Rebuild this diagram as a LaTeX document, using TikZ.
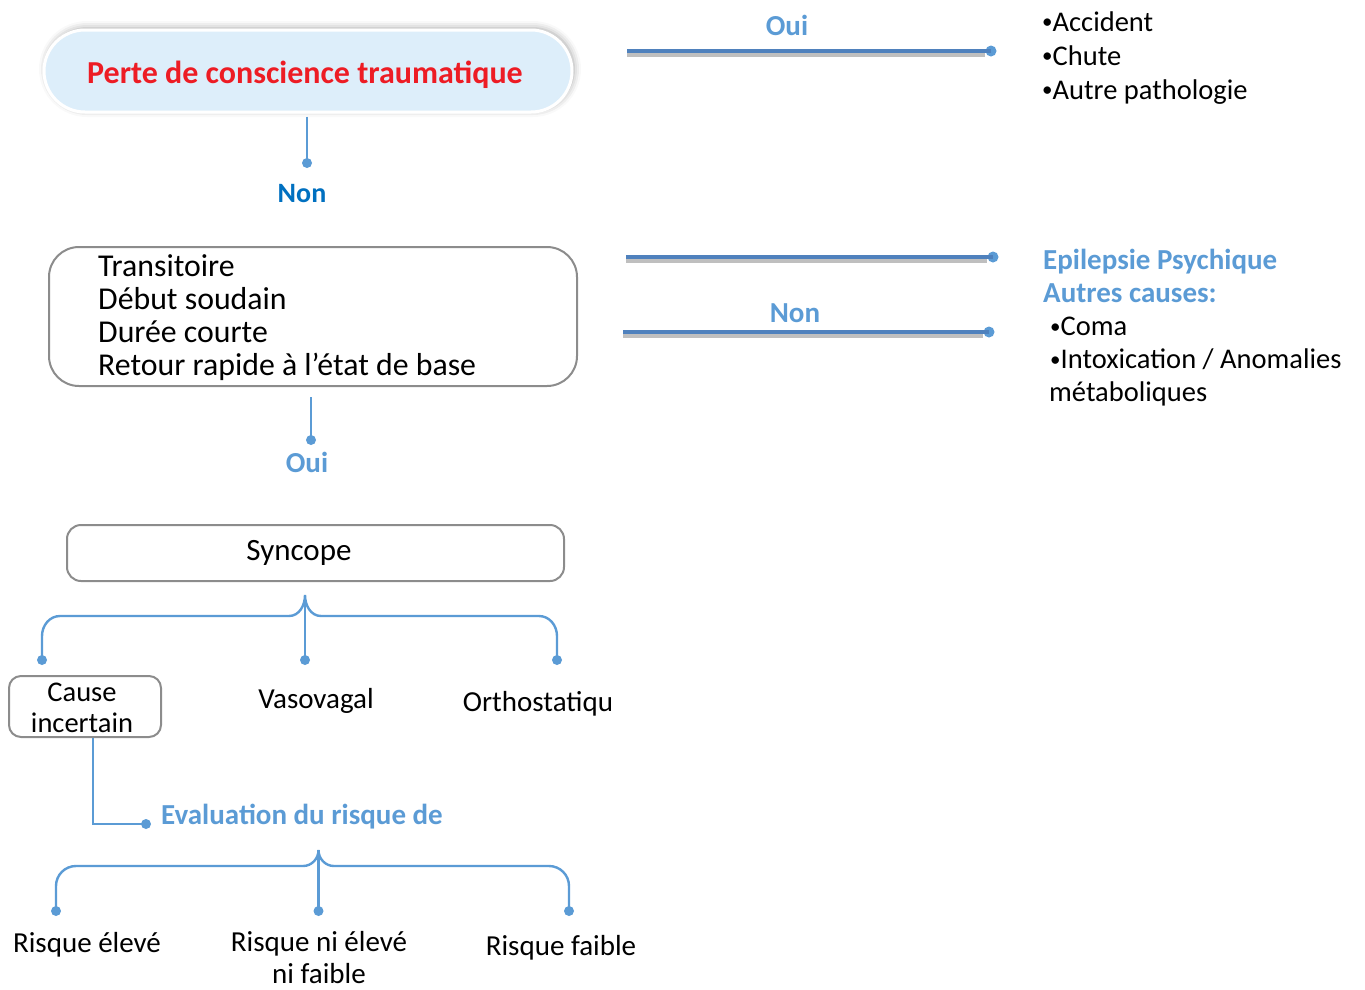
\documentclass[tikz,border=0pt]{standalone}
\usepackage{fontspec}
\setmainfont{Carlito}
\usetikzlibrary{shadows.blur}
\definecolor{pillfill}{HTML}{DDEEFA}
\definecolor{titlered}{HTML}{ED1C24}
\definecolor{darkblue}{HTML}{0070C0}
\definecolor{lightblue}{HTML}{5B9BD5}
\definecolor{barblue}{HTML}{4F81BD}
\definecolor{boxgray}{HTML}{8C8C8C}
% small list bullet
\newcommand\lstbullet{\raisebox{2.5pt}{\fontsize{21}{21}\selectfont •}}
\tikzset{
  txt/.style={font=\fontsize{29}{33}\selectfont, inner sep=0pt},
  lbl/.style={font=\bfseries\fontsize{29}{33}\selectfont, text=lightblue, inner sep=0pt},
  rbox/.style={draw=boxgray, line width=2pt, fill=white},
  conn/.style={draw=lightblue, line width=1.2pt},
  branch/.style={draw=lightblue, line width=2.4pt},
  dot/.style={circle, fill=lightblue, inner sep=0pt, minimum size=10pt},
  bardot/.style={dot, minimum size=11pt},
  bar/.style={draw=barblue, line width=4.5pt},
  barshadow/.style={draw=black!25, line width=4pt},
}
\begin{document}
\begin{tikzpicture}[x=1pt, y=-1pt]
\useasboundingbox (0,0) rectangle (1365,989);

% ---- main column ----
\node[fill=pillfill, draw=white, line width=3pt, rounded corners=41pt,
      minimum width=528pt, minimum height=82pt, inner sep=0pt,
      blur shadow={shadow xshift=2pt, shadow yshift=2pt, shadow blur radius=7pt, shadow opacity=35}]
  (pill) at (308,71) {};
\node[inner sep=0pt, font=\bfseries\fontsize{32}{34}\selectfont, text=titlered]
  (title) at (305,75) {Perte de conscience traumatique};

\node[dot] (d0) at (307,163) {};
\draw[conn, shorten <=3pt] (pill.south -| d0) -- (d0.center);
\node[lbl, text=darkblue, font=\bfseries\fontsize{28}{33}\selectfont] (non1) at (302,194) {Non};

\node[rbox, rounded corners=30pt, minimum width=528pt, minimum height=139pt]
  (crit) at (313,316.5) {};
\node[txt, anchor=west, align=left, font=\fontsize{31.8}{33}\selectfont]
  (critxt) at (98,318) {Transitoire\\Début soudain\\Durée courte\\Retour rapide à l’état de base};

\node[dot] (d1) at (311,440) {};
\draw[conn, shorten <=10pt] (crit.south -| d1) -- (d1.center);
\node[lbl] (oui1) at (307,462) {Oui};

\node[rbox, rounded corners=14pt, minimum width=497pt, minimum height=56pt]
  (sync) at (315.5,553) {};
\node[txt, font=\fontsize{31}{33}\selectfont] (synctxt) at (299,553) {Syncope};

% first brace
\coordinate (b1) at (305,595);
\node[dot] (s1) at (42,660) {};
\node[dot] (s2) at (305,660) {};
\node[dot] (s3) at (557,660) {};
\draw[branch] (s1.center) -- (42,636) to[out=90,in=180] (60,616) -- (289,616)
  to[out=0,in=-90] (b1) to[out=-90,in=180] (321,616) -- (539,616)
  to[out=0,in=90] (557,636) -- (s3.center);
\draw[branch] (b1) -- (s2.center);

\node[rbox, rounded corners=12pt, minimum width=152pt, minimum height=61pt,
      inner sep=0pt, fill=none]
  (cause) at (85,706.5) {};
\node[txt, align=center, font=\fontsize{28.5}{31}\selectfont] (causetxt) at (82,708) {Cause\\incertain};
\node[txt] (vaso) at (316,701) {Vasovagal};
\node[txt] (ortho) at (538,704) {Orthostatiqu};

\node[dot] (e0) at (146,824) {};
\draw[branch] (cause.south -| 93,0) |- (e0.center);
\node[lbl, anchor=west] (eval) at (161,817) {Evaluation du risque de};

% second brace
\coordinate (b2) at (318.5,850);
\node[dot] (r1) at (56,911) {};
\node[dot] (r2) at (318.5,911) {};
\node[dot] (r3) at (569,911) {};
\draw[branch] (r1.center) -- (56,886) to[out=90,in=180] (76,866) -- (303,866)
  to[out=0,in=-90] (b2) to[out=-90,in=180] (334,866) -- (549,866)
  to[out=0,in=90] (569,886) -- (r3.center);
\draw[branch] (b2) -- (r2.center);

\node[txt] (rhigh) at (87,945) {Risque élevé};
\node[txt, align=center, font=\fontsize{29}{32}\selectfont] (rmid) at (319,958) {Risque ni élevé\\ni faible};
\node[txt] (rlow) at (561,948) {Risque faible};

% ---- right column ----
\coordinate (a0) at (627,51);
\node[bardot] (a1) at (991,51) {};
\draw[barshadow] ([yshift=-4pt]a0) -- ([yshift=-4pt,xshift=-6pt]a1.center);
\draw[bar] (a0) -- (a1.center);
\node[lbl] (oui2) at (787,25) {Oui};

\coordinate (p0) at (626,257);
\node[bardot] (p1) at (993,257) {};
\draw[barshadow] ([yshift=-4pt]p0) -- ([yshift=-4pt,xshift=-6pt]p1.center);
\draw[bar] (p0) -- (p1.center);

\coordinate (q0) at (623,332);
\node[bardot] (q1) at (989,332) {};
\draw[barshadow] ([yshift=-4pt]q0) -- ([yshift=-4pt,xshift=-6pt]q1.center);
\draw[bar] (q0) -- (q1.center);
\node[lbl] (non2) at (795,313) {Non};

\node[txt, anchor=west, align=left, font=\fontsize{28.5}{34}\selectfont]
  (trauma) at (1042,58) {\lstbullet Accident\\\lstbullet Chute\\\lstbullet Autre pathologie};

\node[lbl, anchor=west, align=left] (epi) at (1043,276) {Epilepsie Psychique\\Autres causes:};
\node[txt, anchor=west, align=left, font=\fontsize{28.5}{33}\selectfont]
  (autres) at (1049,362) {\hspace*{1pt}\lstbullet Coma\\\hspace*{1pt}\lstbullet Intoxication / Anomalies\\métaboliques};
\end{tikzpicture}
\end{document}
